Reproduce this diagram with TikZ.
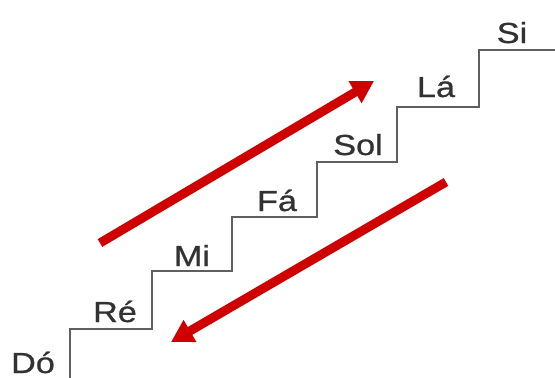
\documentclass[tikz,border=0pt]{standalone}
\usepackage{fontspec}
\newfontfamily\notefont[FakeStretch=1.18,FakeBold=0.8]{Liberation Sans}
\usetikzlibrary{arrows.meta}
\definecolor{stairgray}{RGB}{95,95,95}
\definecolor{notegray}{RGB}{50,50,50}
\definecolor{arrowred}{RGB}{206,0,0}

\begin{document}
\begin{tikzpicture}[x=1pt, y=-1pt,
  note/.style={font=\notefont\fontsize{29}{29}\selectfont, text=notegray, anchor=base, inner sep=0pt},
  stair/.style={draw=stairgray, line width=1.4pt},
  bigarrow/.style={draw=arrowred, line width=9pt, -{Triangle[length=22pt,width=24pt]}}]
  \useasboundingbox (0,0) rectangle (555,378);
  % the staircase, bottom to top
  \draw[stair] (70,378) -- (70,329) -- (152,329) -- (152,271) -- (232,271) -- (232,217)
    -- (317,217) -- (317,162) -- (397,162) -- (397,107) -- (479,107) -- (479,50) -- (555,50);
  \node[note] (do)  at (33,373)  {Dó};
  \node[note] (re)  at (115,322) {Ré};
  \node[note] (mi)  at (192,266) {Mi};
  \node[note] (fa)  at (277,211) {Fá};
  \node[note] (sol) at (358,155) {Sol};
  \node[note] (la)  at (436,97)  {Lá};
  \node[note] (si)  at (512,43)  {Si};
  % going up and coming down
  \coordinate (upstart) at (100,243);
  \coordinate (upend) at (374,81);
  \coordinate (downstart) at (446,182);
  \coordinate (downend) at (171,342);
  \draw[bigarrow] (upstart) -- (upend);
  \draw[bigarrow] (downstart) -- (downend);
\end{tikzpicture}
\end{document}
